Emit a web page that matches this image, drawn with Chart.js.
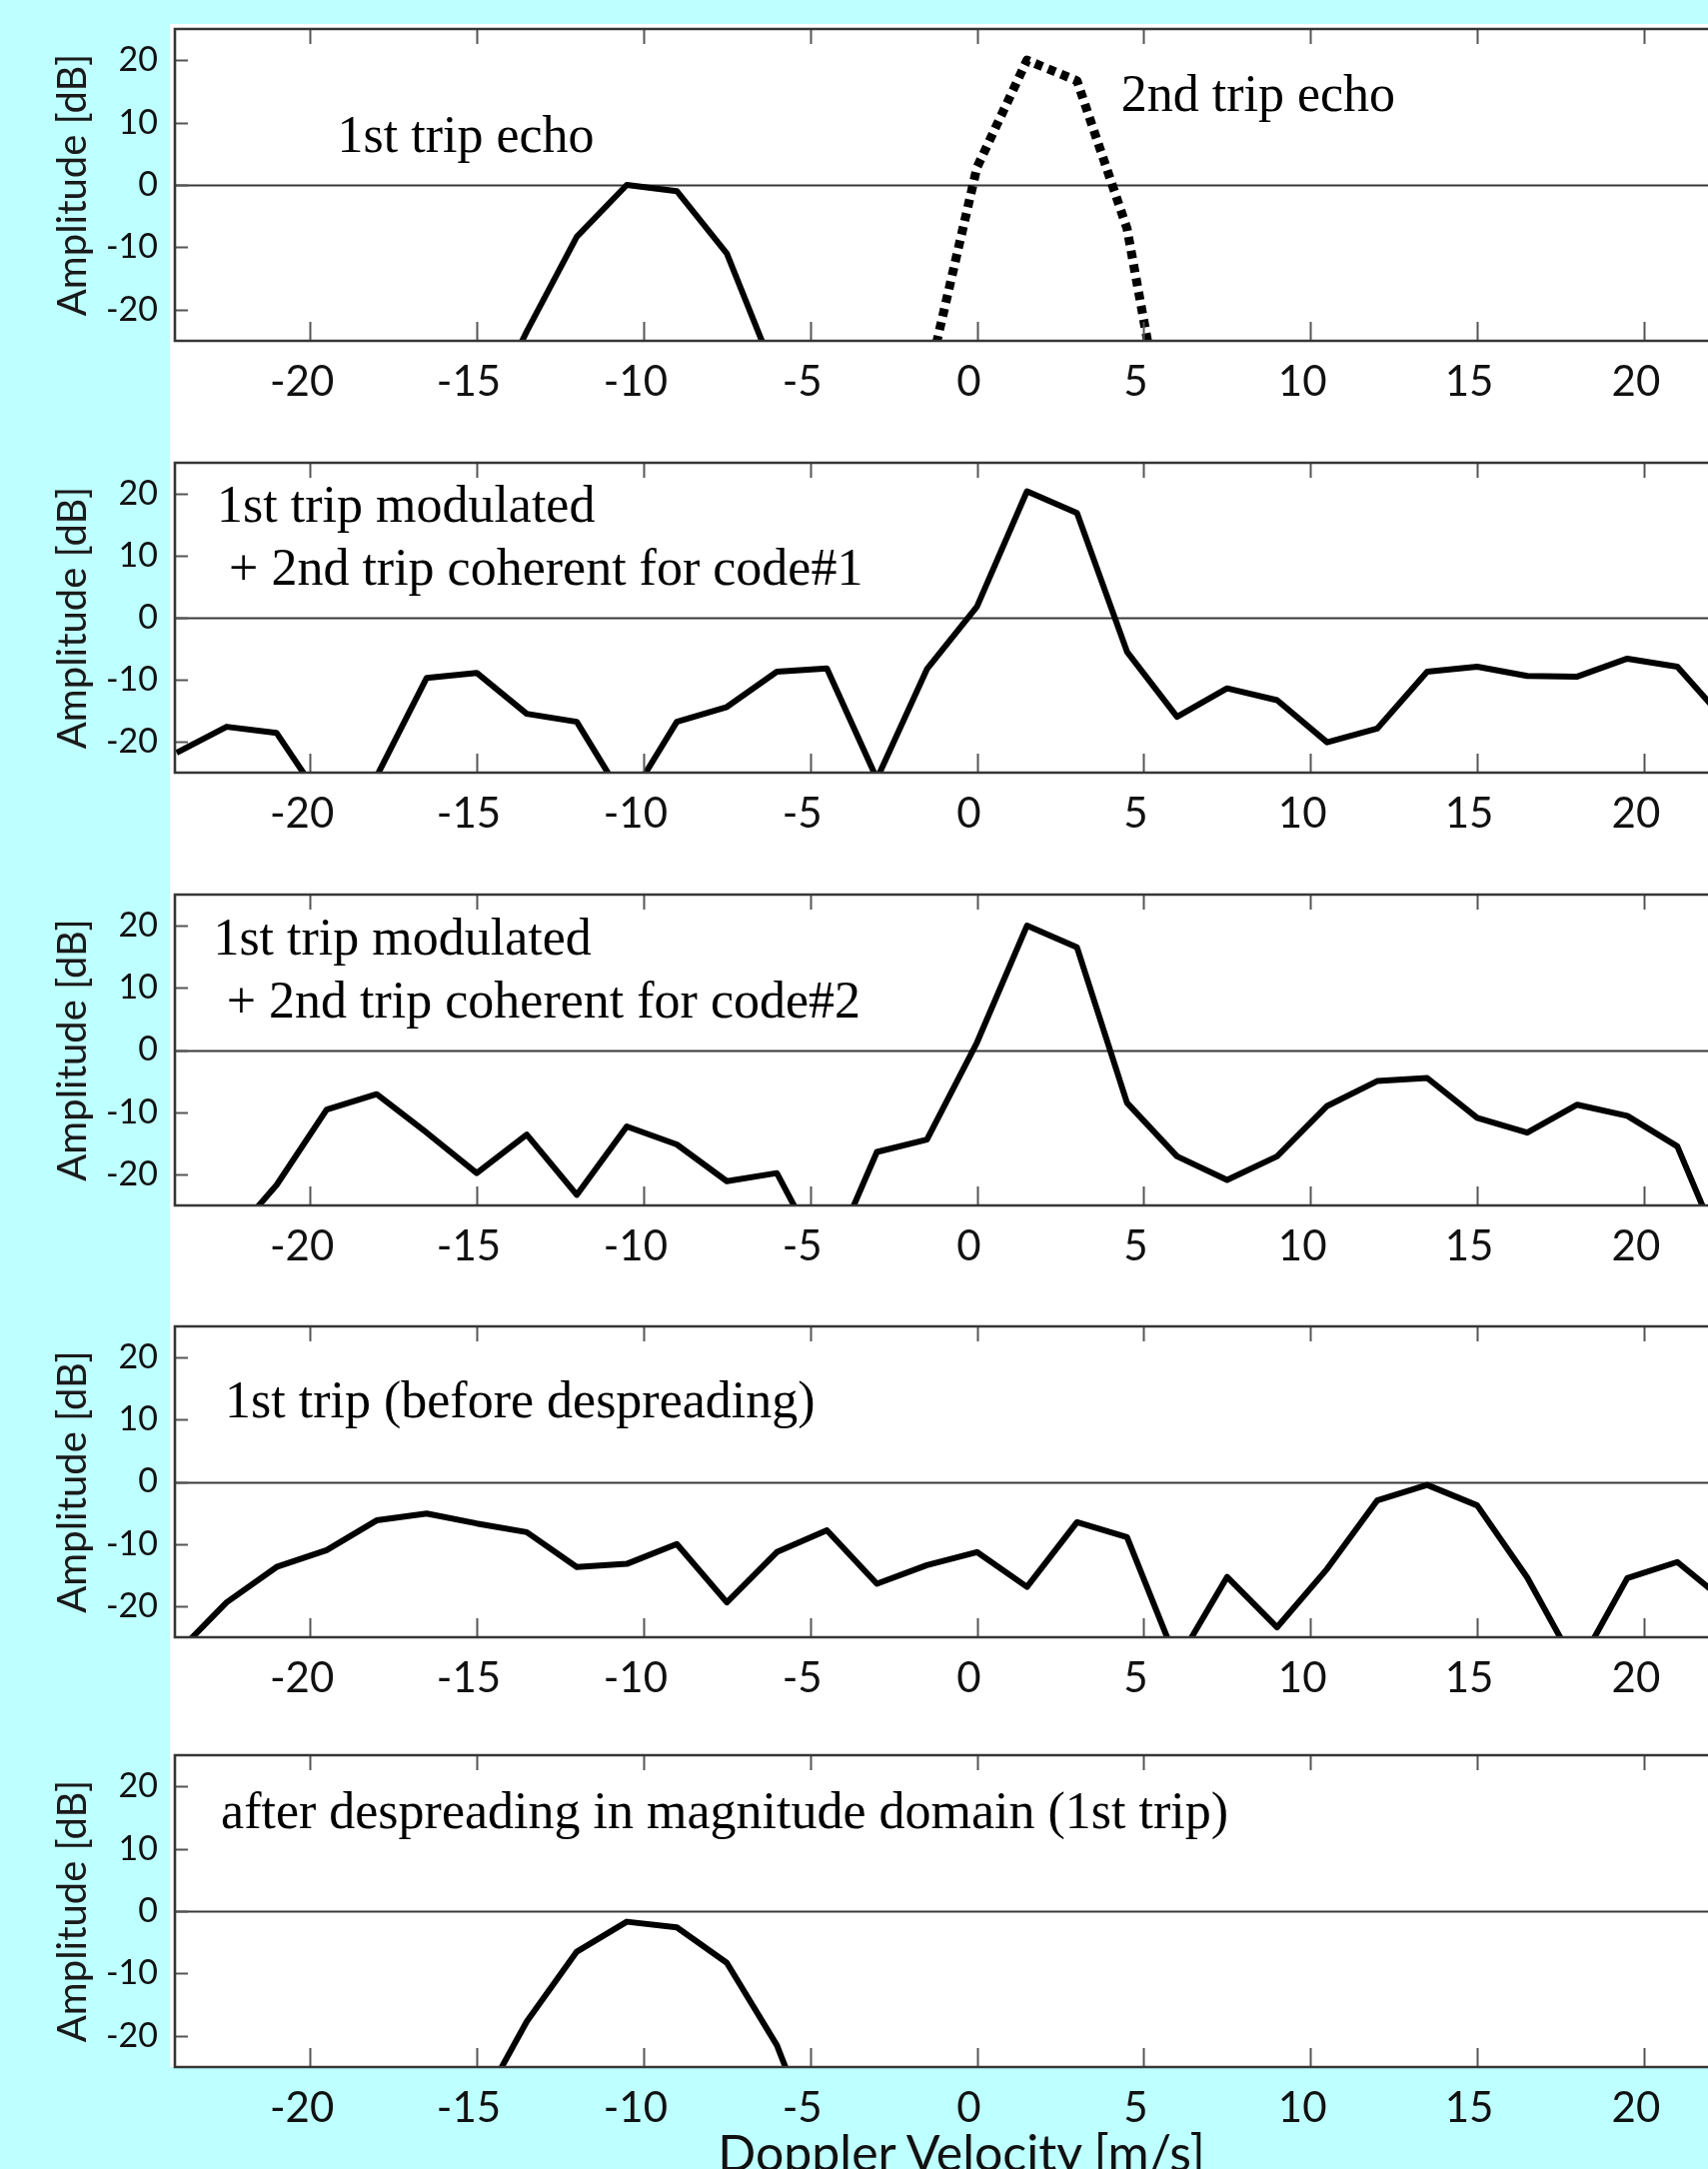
<!DOCTYPE html>
<html>
<head>
<meta charset="utf-8">
<script src="https://cdn.jsdelivr.net/npm/chart.js@4.4.1/dist/chart.umd.min.js"></script>
<style>
html,body{margin:0;padding:0;width:1709px;height:2170px;overflow:hidden;background:#beffff;}
#white{position:absolute;left:170px;top:24px;width:1539px;height:2044px;background:#ffffff;}
canvas{position:absolute;left:0;}
#xtitle{position:absolute;left:962px;top:2128px;transform:translateX(-50%);font-family:Lato,sans-serif;font-size:50px;line-height:1;color:#111;white-space:nowrap;}
</style>
</head>
<body>
<div id="white"></div>
<canvas id="c1"></canvas>
<canvas id="c2"></canvas>
<canvas id="c3"></canvas>
<canvas id="c4"></canvas>
<canvas id="c5"></canvas>
<div id="xtitle">Doppler Velocity [m/s]</div>
<script>
// Doppler velocity bins [m/s]
const velocity = [-24,-22.5,-21,-19.5,-18,-16.5,-15,-13.5,-12,-10.5,-9,-7.5,-6,-4.5,-3,-1.5,0,1.5,3,4.5,6,7.5,9,10.5,12,13.5,15,16.5,18,19.5,21,22.5,24];
const xTickValues = [-20,-15,-10,-5,0,5,10,15,20];
const yTickValues = [-20,-10,0,10,20];

// Panel 1
const trip1Echo = [null,null,null,null,null,null,-40,-23.5,-8.3,0,-1.0,-11,-31,null,null,null,null,null,null,null,null,null,null,null,null,null,null,null,null,null,null,null,null];
const trip2Echo = [null,null,null,null,null,null,null,null,null,null,null,null,null,null,null,-32,2.8,20,16.7,-7,-51,null,null,null,null,null,null,null,null,null,null,null,null];
// Panel 2
const code1 = [-21.8,-17.6,-18.6,-30.6,-25.6,-9.7,-8.9,-15.5,-16.8,-30,-16.8,-14.4,-8.7,-8.2,-26,-8.3,1.8,20.4,16.9,-5.5,-16.0,-11.4,-13.3,-20.1,-17.9,-8.7,-7.9,-9.4,-9.5,-6.6,-7.9,-17,-22];
// Panel 3
const code2 = [null,-31,-21.7,-9.6,-7.1,-13.3,-19.8,-13.6,-23.3,-12.3,-15.2,-21.1,-19.8,-35,-16.4,-14.4,1.2,20,16.5,-8.5,-17.1,-20.9,-17.1,-9.0,-5.0,-4.5,-10.9,-13.3,-8.8,-10.6,-15.5,-34.5,null];
// Panel 4
const beforeDespread = [-27.6,-19.4,-13.7,-11.0,-6.2,-5.1,-6.7,-8.1,-13.7,-13.2,-10.0,-19.4,-11.3,-7.8,-16.4,-13.4,-11.3,-16.9,-6.5,-8.9,-29,-15.3,-23.4,-14,-3.0,-0.5,-3.8,-15.4,-30,-15.5,-12.9,-19.5,-22];
// Panel 5
const afterDespread = [null,null,null,null,null,null,-32.3,-17.7,-6.5,-1.7,-2.6,-8.3,-21.5,-42,null,null,null,null,null,null,null,null,null,null,null,null,null,null,null,null,null,null,null];

const panels = [
  {id:'c1', top:29, h:312, series:[{data:trip1Echo},{data:trip2Echo, dash:[8,6]}],
   notes:[{t:'1st trip echo', x:-19.18, y:5.3},{t:'2nd trip echo', x:4.32, y:11.9}]},
  {id:'c2', top:463, h:310, series:[{data:code1}],
   notes:[{t:'1st trip modulated', x:-22.79, y:15.5},{t:'+ 2nd trip coherent for code#1', x:-22.43, y:5.3}]},
  {id:'c3', top:895, h:311, series:[{data:code2}],
   notes:[{t:'1st trip modulated', x:-22.9, y:15.35},{t:'+ 2nd trip coherent for code#2', x:-22.5, y:5.2}]},
  {id:'c4', top:1327, h:311, series:[{data:beforeDespread}],
   notes:[{t:'1st trip (before despreading)', x:-22.55, y:10.3}]},
  {id:'c5', top:1756, h:312, series:[{data:afterDespread}],
   notes:[{t:'after despreading in magnitude domain (1st trip)', x:-22.67, y:13.3}]}
];

const PAD_TOP = 20, X_AXIS_H = 90, Y_AXIS_W = 175;

const framePlugin = {
  id: 'frame',
  beforeDatasetsDraw(chart) {
    const {ctx, chartArea:a, scales:{x, y}} = chart;
    ctx.save();
    ctx.strokeStyle = '#383838';
    ctx.lineWidth = 2.2;
    const y0 = Math.round(y.getPixelForValue(0)) + 0.5;
    ctx.beginPath(); ctx.moveTo(a.left, y0); ctx.lineTo(a.right, y0); ctx.stroke();
    ctx.restore();
  },
  afterDatasetsDraw(chart, args, opts) {
    const {ctx, chartArea:a, scales:{x, y}} = chart;
    ctx.save();
    ctx.strokeStyle = '#555';
    ctx.lineWidth = 2;
    xTickValues.forEach(v => {
      const px = Math.round(x.getPixelForValue(v)) + 0.5;
      ctx.beginPath(); ctx.moveTo(px, a.top); ctx.lineTo(px, a.top + 15); ctx.stroke();
      ctx.beginPath(); ctx.moveTo(px, a.bottom); ctx.lineTo(px, a.bottom - 19); ctx.stroke();
    });
    yTickValues.forEach(v => {
      const py = Math.round(y.getPixelForValue(v)) + 0.5;
      ctx.beginPath(); ctx.moveTo(a.left, py); ctx.lineTo(a.left + 13, py); ctx.stroke();
    });
    ctx.strokeStyle = '#363636';
    ctx.lineWidth = 2.6;
    ctx.beginPath();
    ctx.moveTo(a.right + 2, a.top); ctx.lineTo(a.left, a.top); ctx.lineTo(a.left, a.bottom); ctx.lineTo(a.right + 2, a.bottom);
    ctx.stroke();
    ctx.fillStyle = '#000';
    ctx.font = '52px "Liberation Serif", "Times New Roman", serif';
    ctx.textBaseline = 'alphabetic';
    ctx.textAlign = 'left';
    (opts.notes || []).forEach(n => {
      ctx.fillText(n.t, x.getPixelForValue(n.x), y.getPixelForValue(n.y));
    });
    ctx.restore();
  }
};

panels.forEach(p => {
  const c = document.getElementById(p.id);
  c.width = 1709;
  c.height = p.h + PAD_TOP + X_AXIS_H;
  c.style.top = (p.top - PAD_TOP) + 'px';
  new Chart(c, {
    type: 'line',
    data: {
      labels: velocity,
      datasets: p.series.map(s => ({
        data: velocity.map((v, i) => ({x: v, y: s.data[i]})),
        borderColor: '#000',
        borderWidth: s.dash ? 9 : 6,
        borderDash: s.dash || [],
        borderCapStyle: 'butt',
        borderJoinStyle: 'round',
        pointRadius: 0,
        tension: 0,
        spanGaps: false,
        fill: false,
        clip: 0
      }))
    },
    options: {
      responsive: false,
      animation: false,
      devicePixelRatio: 1,
      layout: {padding: {top: PAD_TOP, left: 0, right: 0, bottom: 0}},
      plugins: {legend: {display: false}, tooltip: {enabled: false}, frame: {notes: p.notes}},
      scales: {
        x: {
          type: 'linear', position: 'bottom', min: -24.05, max: 21.92,
          afterBuildTicks: s => { s.ticks = xTickValues.map(v => ({value: v})); },
          afterFit: s => { s.height = X_AXIS_H; s.paddingLeft = 0; s.paddingRight = 0; s.paddingTop = 0; s.paddingBottom = 0; },
          grid: {display: false, drawTicks: false, tickLength: 0},
          border: {display: false},
          ticks: {autoSkip: false, maxRotation: 0, padding: 16, labelOffset: -8, color: '#111',
                  font: {family: 'Lato', size: 42}, callback: v => String(v)}
        },
        y: {
          type: 'linear', position: 'left', min: -25, max: 25,
          afterBuildTicks: s => { s.ticks = yTickValues.map(v => ({value: v})); },
          afterFit: s => { s.width = Y_AXIS_W; s.paddingTop = 0; s.paddingBottom = 0; s.paddingLeft = 0; s.paddingRight = 0; },
          grid: {display: false, drawTicks: false, tickLength: 0},
          border: {display: false},
          ticks: {autoSkip: false, padding: 17, color: '#111', font: {family: 'Lato', size: 34}, callback: v => String(v)},
          title: {display: true, text: 'Amplitude [dB]', color: '#1a1a1a', font: {family: 'Lato', size: 40}, padding: {top: 49, bottom: 0}}
        }
      }
    },
    plugins: [framePlugin]
  });
});
</script>
</body>
</html>
